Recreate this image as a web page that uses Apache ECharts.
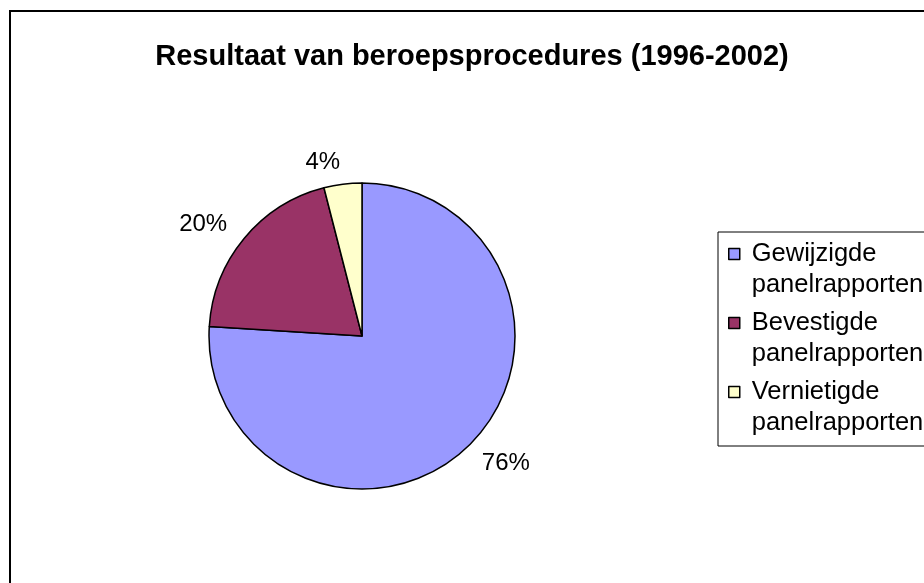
<!DOCTYPE html>
<html>
<head>
<meta charset="utf-8">
<script src="https://cdn.jsdelivr.net/npm/echarts@6/dist/echarts.min.js"></script>
<style>
	body{ margin:0; background:#fff; }
	#main{ width:924px; height:583px; }
</style>
</head>
<body>
<div id="main"></div>
<script type="text/javascript">
// data
var categories = ['Gewijzigde\npanelrapporten', 'Bevestigde\npanelrapporten', 'Vernietigde\npanelrapporten'];
var values = [76, 20, 4];
var colors = ['#9999FF', '#993366', '#FFFFCC'];

var myChart = echarts.init(document.getElementById('main'));

var pieData = [];
for (var i = 0; i < categories.length; i++) {
	pieData.push({ name: categories[i], value: values[i], itemStyle: { color: colors[i] } });
}

// square at the top of a taller box, so it lines up with the first text line
var legendIcon = 'path://M0,0h11v11h-11z M0,41';

var option = {
	backgroundColor: '#fff',
	animation: false,
	title: {
		text: 'Resultaat van beroepsprocedures (1996-2002)',
		left: 467,
		top: 37,
		textAlign: 'center',
		textStyle: { fontFamily: 'Liberation Sans', fontSize: 29, fontWeight: 'bold', color: '#000' }
	},
	graphic: [{
		type: 'rect',
		shape: { x: 10, y: 11, width: 1000, height: 1000 },
		style: { fill: 'none', stroke: '#000', lineWidth: 2 },
		silent: true
	}],
	legend: {
		orient: 'vertical',
		left: 718,
		top: 232,
		padding: [6, 20, 8, 10],
		itemWidth: 11,
		itemHeight: 41,
		itemGap: 7,
		icon: legendIcon,
		borderColor: '#000',
		borderWidth: 1,
		itemStyle: { borderColor: '#000', borderWidth: 1.5 },
		textStyle: { fontFamily: 'Liberation Sans', fontSize: 25.5, color: '#000', lineHeight: 31, padding: [0, 0, 0, 7] },
		data: categories
	},
	series: [{
		name: 'Resultaat',
		type: 'pie',
		center: [362, 336],
		radius: 153,
		startAngle: 90,
		clockwise: true,
		silent: true,
		data: pieData,
		itemStyle: { borderColor: '#000', borderWidth: 1.5 },
		label: {
			show: true,
			position: 'outside',
			formatter: '{d}%',
			fontFamily: 'Liberation Sans',
			fontSize: 24,
			color: '#000',
			distanceToLabelLine: 0
		},
		labelLine: { show: false, length: 22, length2: 0 }
	}]
};
myChart.setOption(option);
</script>
</body>
</html>
